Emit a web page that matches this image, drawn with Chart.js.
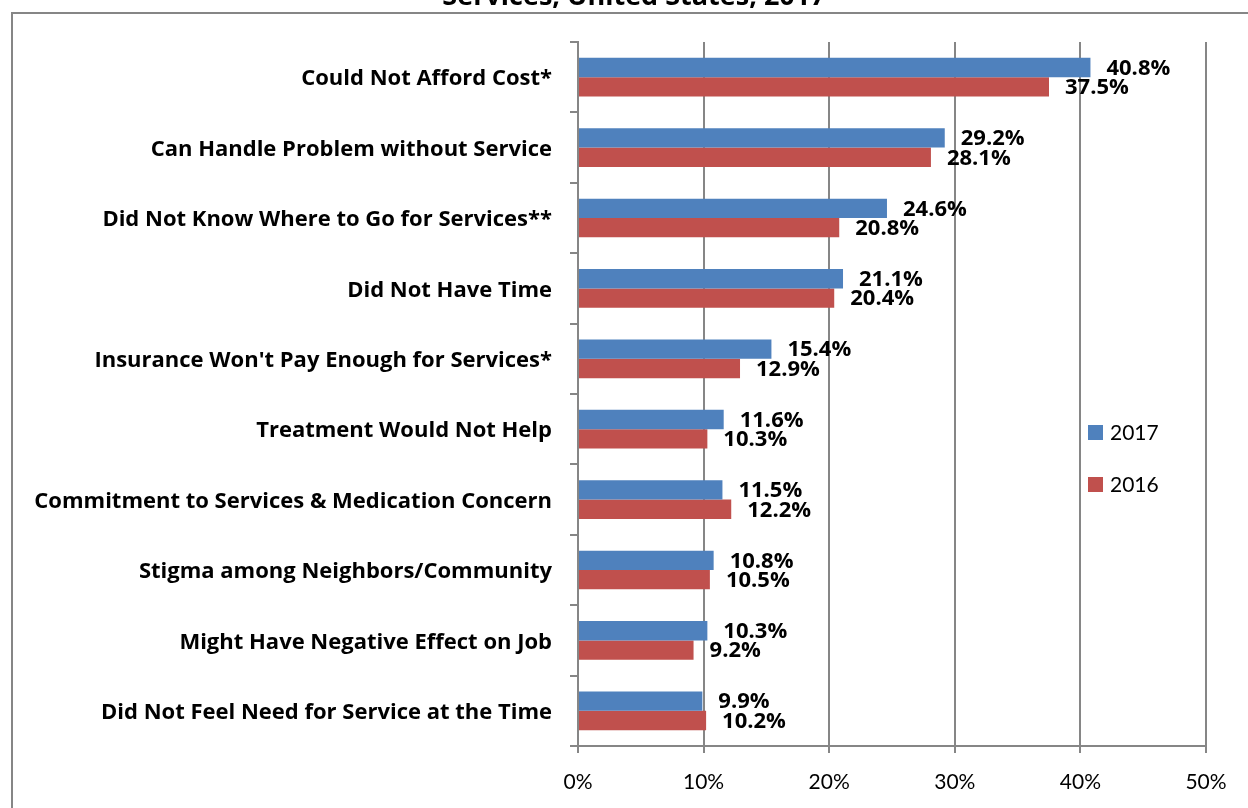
<!DOCTYPE html>
<html>
<head>
<meta charset="utf-8">
<script src="https://cdn.jsdelivr.net/npm/chart.js@4.4.0/dist/chart.umd.min.js"></script>
<style>
  html, body { margin: 0; padding: 0; background: #fff; }
  #wrap { width: 1248px; height: 808px; }
</style>
</head>
<body>
<div id="wrap"><canvas id="myChart" width="1248" height="808"></canvas></div>
<script>
const reasons = [
    'Could Not Afford Cost*',
    'Can Handle Problem without Service',
    'Did Not Know Where to Go for Services**',
    'Did Not Have Time',
    "Insurance Won't Pay Enough for Services*",
    'Treatment Would Not Help',
    'Commitment to Services & Medication Concern',
    'Stigma among Neighbors/Community',
    'Might Have Negative Effect on Job',
    'Did Not Feel Need for Service at the Time'
];
const years = ['2017', '2016'];
const values2017 = [40.8, 29.2, 24.6, 21.1, 15.4, 11.6, 11.5, 10.8, 10.3, 9.9];
const values2016 = [37.5, 28.1, 20.8, 20.4, 12.9, 10.3, 12.2, 10.5, 9.2, 10.2];
const xTicks = [0, 10, 20, 30, 40, 50];

const BOLD_FONT = '"Open Sans", sans-serif';
const FONT = 'Lato, "Open Sans", sans-serif';
const GRID = '#868686';

// outer frame + title line that sits above it
const framePlugin = {
    id: 'frame',
    beforeDraw(chart) {
        const c = chart.ctx;
        c.save();
        c.fillStyle = '#fff';
        c.fillRect(0, 0, chart.width, chart.height);
        c.strokeStyle = GRID;
        c.lineWidth = 2;
        c.strokeRect(12, 13, 1300, 900);
        c.fillStyle = '#000';
        c.font = 'bold 27px ' + BOLD_FONT;
        c.textAlign = 'center';
        c.textBaseline = 'alphabetic';
        c.fillText('Services, United States, 2017', 634, 5);
        c.restore();
    }
};

// value labels at the end of each bar
const valueLabels = {
    id: 'valueLabels',
    afterDatasetsDraw(chart) {
        const c = chart.ctx;
        c.save();
        c.fillStyle = '#000';
        c.font = 'bold 22px ' + BOLD_FONT;
        c.textAlign = 'left';
        c.textBaseline = 'middle';
        chart.data.datasets.forEach((ds, i) => {
            chart.getDatasetMeta(i).data.forEach((bar, j) => {
                c.fillText(ds.data[j].toFixed(1) + '%', bar.x + 16, bar.y + 1);
            });
        });
        c.restore();
    }
};

// legend drawn inside the plot on the right
const sideLegend = {
    id: 'sideLegend',
    afterDraw(chart) {
        const c = chart.ctx;
        c.save();
        c.font = '21px ' + FONT;
        c.textBaseline = 'middle';
        chart.data.datasets.forEach((ds, i) => {
            const y = 432 + i * 52;
            c.fillStyle = ds.backgroundColor;
            c.fillRect(1088, y - 7, 15, 15);
            c.fillStyle = '#000';
            c.fillText(ds.label, 1110, y + 1);
        });
        c.restore();
    }
};

new Chart(document.getElementById('myChart'), {
    type: 'bar',
    data: {
        labels: reasons,
        datasets: [{
            label: years[0],
            data: values2017,
            backgroundColor: '#4F81BD'
        }, {
            label: years[1],
            data: values2016,
            backgroundColor: '#C0504D'
        }]
    },
    options: {
        indexAxis: 'y',
        responsive: false,
        animation: false,
        categoryPercentage: 0.55,
        barPercentage: 1.0,
        layout: {
            padding: { top: 42, right: 42, left: 0, bottom: 0 }
        },
        plugins: {
            legend: { display: false },
            tooltip: { enabled: false }
        },
        scales: {
            x: {
                min: 0,
                max: 50,
                afterFit(scale) { scale.height = 62; },
                afterBuildTicks(scale) { scale.ticks = xTicks.map(v => ({ value: v })); },
                ticks: {
                    padding: 17,
                    color: '#000',
                    font: { family: FONT, size: 21 },
                    callback: v => v + '%'
                },
                grid: { color: GRID, lineWidth: 2, tickLength: 7 },
                border: { color: GRID, width: 2 }
            },
            y: {
                afterFit(scale) { scale.width = 578; },
                ticks: {
                    padding: 18,
                    labelOffset: 2,
                    color: '#000',
                    font: { family: BOLD_FONT, size: 22, weight: 'bold' }
                },
                grid: { offset: true, drawOnChartArea: false, color: GRID, lineWidth: 2, tickLength: 8 },
                border: { color: GRID, width: 2 }
            }
        }
    },
    plugins: [framePlugin, valueLabels, sideLegend]
});
</script>
</body>
</html>
